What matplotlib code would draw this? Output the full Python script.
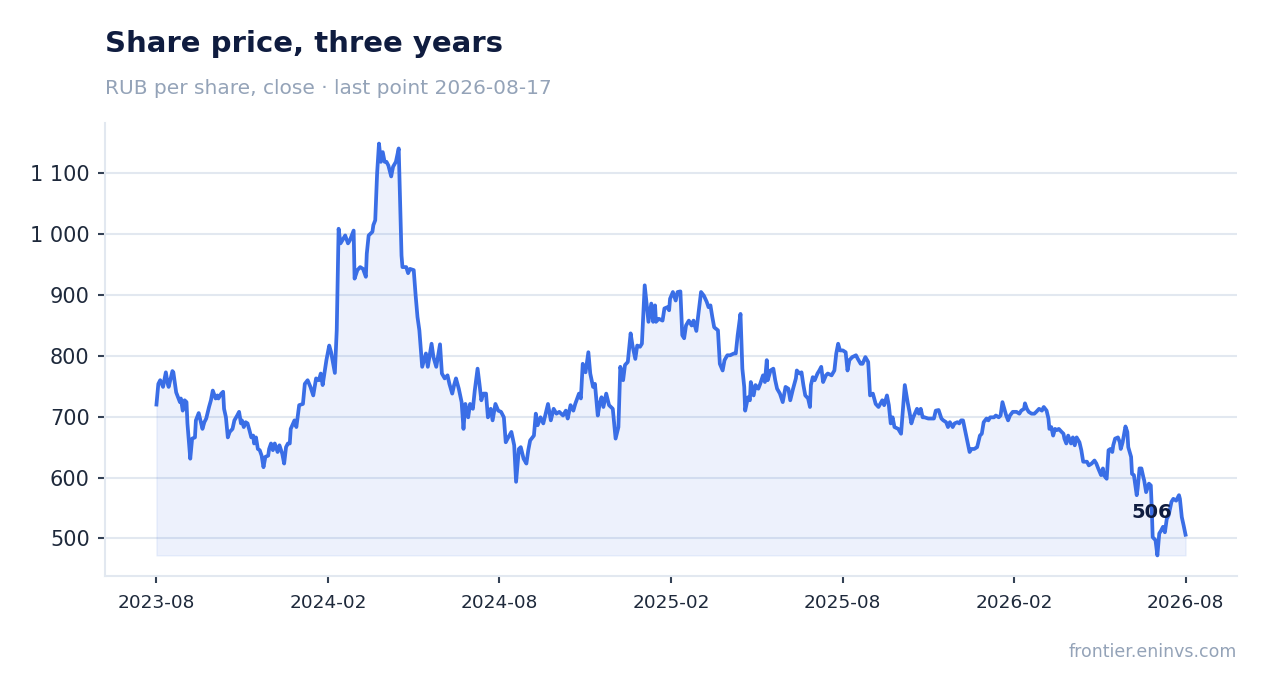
import numpy as np
import pandas as pd
import matplotlib
matplotlib.use("Agg")
import matplotlib.pyplot as plt
from matplotlib.ticker import FuncFormatter

# daily closes: days since 2023-08-17 and price (RUB)
start_date = "2023-08-17"
day_offset = [
    0, 2, 4, 7, 10, 12, 13, 17, 18, 21, 23, 25, 26, 28, 30, 32, 33, 36, 38, 41,
    42, 45, 48, 49, 51, 53, 55, 56, 58, 60, 63, 65, 66, 69, 71, 72, 74, 76, 78, 81,
    83, 86, 88, 90, 91, 93, 95, 97, 99, 101, 103, 104, 106, 108, 110, 112, 114, 116, 119, 120,
    122, 124, 126, 128, 129, 131, 134, 136, 138, 140, 142, 143, 147, 149, 152, 156, 158, 161, 164, 167,
    170, 173, 175, 177, 181, 184, 186, 190, 192, 194, 196, 198, 201, 204, 206, 210, 211, 214, 217, 220,
    223, 224, 226, 230, 231, 233, 235, 237, 239, 241, 243, 245, 247, 250, 252, 255, 258, 261, 262, 266,
    268, 270, 274, 276, 278, 280, 283, 287, 289, 293, 295, 298, 302, 304, 307, 310, 312, 315, 317, 319,
    322, 325, 327, 329, 332, 334, 337, 339, 342, 344, 346, 348, 351, 353, 356, 358, 361, 364, 367, 370,
    372, 374, 378, 381, 383, 386, 388, 391, 394, 396, 398, 402, 404, 406, 409, 412, 414, 417, 420, 423,
    426, 429, 433, 436, 438, 441, 444, 446, 450, 452, 454, 457, 460, 462, 465, 467, 470, 472, 474, 476,
    479, 482, 486, 489, 492, 494, 497, 499, 502, 505, 507, 510, 512, 515, 517, 520, 522, 524, 527, 529,
    531, 532, 535, 539, 541, 544, 546, 547, 550, 553, 555, 558, 560, 562, 564, 567, 570, 572, 575, 578,
    580, 583, 586, 588, 590, 592, 594, 598, 600, 603, 605, 608, 611, 615, 617, 619, 622, 624, 626, 627,
    630, 632, 633, 636, 638, 641, 643, 646, 648, 650, 651, 654, 657, 659, 661, 664, 667, 670, 673, 675,
    678, 681, 682, 685, 687, 689, 691, 694, 696, 697, 699, 701, 704, 706, 708, 710, 713, 715, 719, 722,
    724, 726, 728, 731, 734, 736, 738, 741, 745, 747, 750, 752, 755, 758, 760, 763, 766, 769, 773, 775,
    778, 780, 782, 784, 786, 790, 793, 795, 797, 800, 802, 804, 806, 810, 812, 814, 816, 818, 822, 826,
    828, 830, 833, 836, 838, 841, 843, 845, 848, 850, 853, 855, 857, 859, 862, 863, 866, 868, 871, 874,
    875, 877, 879, 881, 884, 886, 888, 892, 894, 897, 899, 901, 903, 905, 907, 909, 912, 916, 919, 921,
    924, 925, 927, 929, 932, 935, 937, 940, 943, 945, 948, 950, 951, 953, 955, 957, 959, 961, 964, 966,
    967, 969, 971, 974, 976, 978, 980, 983, 985, 987, 991, 993, 996, 999, 1001, 1003, 1006, 1008, 1009, 1012,
    1014, 1016, 1018, 1019, 1021, 1024, 1026, 1027, 1029, 1032, 1034, 1035, 1038, 1039, 1041, 1044, 1045, 1047, 1049, 1051,
    1052, 1054, 1057, 1059, 1060, 1061, 1064, 1066, 1068, 1070, 1072, 1074, 1076, 1078, 1081, 1083, 1086, 1089, 1090, 1092,
    1094, 1096,
]
price = [
    720, 754, 760, 749, 773, 754, 749, 775, 773, 740, 732, 724, 730, 710, 727, 724, 689, 631, 664, 666,
    694, 706, 686, 680, 691, 697, 710, 716, 727, 743, 730, 735, 730, 738, 741, 713, 699, 666, 675, 680,
    694, 702, 708, 689, 694, 683, 691, 689, 678, 666, 669, 656, 666, 647, 645, 636, 617, 634, 636, 647,
    656, 645, 656, 647, 642, 653, 639, 623, 650, 656, 656, 680, 694, 683, 719, 721, 754, 760, 749, 735,
    763, 760, 771, 752, 793, 817, 806, 772, 842, 1009, 985, 990, 998, 985, 990, 1006, 927, 941, 946, 943,
    930, 968, 998, 1004, 1015, 1023, 1100, 1149, 1119, 1135, 1119, 1119, 1113, 1095, 1111, 1119, 1141, 965, 946, 946,
    936, 943, 941, 900, 864, 842, 782, 804, 782, 820, 798, 782, 819, 771, 763, 768, 754, 738, 752, 763,
    746, 724, 680, 721, 699, 721, 713, 743, 779, 754, 727, 738, 738, 699, 713, 694, 721, 710, 708, 699,
    658, 664, 675, 653, 593, 647, 650, 631, 623, 645, 661, 669, 705, 686, 699, 689, 702, 721, 694, 713,
    705, 708, 702, 710, 697, 719, 710, 721, 738, 730, 787, 773, 806, 771, 749, 754, 702, 721, 732, 716,
    738, 719, 713, 664, 683, 782, 760, 785, 790, 837, 817, 795, 817, 815, 820, 916, 886, 856, 886, 856,
    883, 856, 861, 858, 878, 880, 875, 894, 905, 891, 905, 906, 834, 829, 850, 858, 850, 858, 841, 880,
    905, 899, 889, 880, 883, 864, 847, 842, 787, 776, 793, 801, 801, 804, 804, 834, 869, 779, 749, 710,
    732, 727, 757, 735, 752, 746, 754, 768, 757, 793, 760, 776, 779, 760, 746, 738, 724, 749, 746, 727,
    746, 763, 776, 771, 773, 752, 735, 730, 716, 752, 765, 760, 771, 776, 782, 757, 768, 771, 768, 776,
    804, 820, 809, 809, 806, 776, 793, 798, 801, 795, 787, 787, 798, 790, 735, 738, 721, 716, 727, 719,
    735, 719, 689, 699, 683, 680, 672, 713, 752, 724, 708, 689, 699, 713, 705, 713, 699, 699, 697, 697,
    697, 710, 711, 697, 694, 691, 683, 691, 683, 689, 691, 689, 694, 694, 672, 664, 642, 647, 647, 650,
    656, 669, 672, 691, 697, 694, 699, 699, 702, 699, 702, 724, 713, 702, 694, 702, 708, 708, 705, 710,
    713, 722, 713, 708, 705, 705, 708, 713, 710, 716, 710, 697, 680, 683, 669, 680, 678, 680, 675, 672,
    664, 656, 669, 656, 666, 653, 666, 658, 645, 626, 626, 620, 623, 628, 623, 615, 604, 615, 604, 598,
    645, 647, 642, 653, 664, 666, 658, 647, 658, 684, 675, 650, 634, 606, 604, 571, 582, 615, 615, 601,
    595, 576, 590, 587, 551, 502, 497, 472, 508, 513, 519, 510, 532, 538, 560, 565, 562, 571, 565, 535,
    521, 506,
]
tick_labels = ["2023-08", "2024-02", "2024-08", "2025-02", "2025-08", "2026-02", "2026-08"]

title = "Share price, three years"
subtitle = "RUB per share, close · last point 2026-08-17"
source = "frontier.eninvs.com"

line_color = "#3a6ee6"
navy = "#0f1c3f"
grey = "#94a3b8"
grid_color = "#e2e8f0"

t0 = pd.Timestamp(start_date)
dates = t0 + pd.to_timedelta(day_offset, unit="D")
values = np.array(price, dtype=float)

fig = plt.figure(figsize=(12.67, 6.93), dpi=100)
ax = fig.add_axes([105 / 1267, 1 - 576 / 693, (1237 - 105) / 1267, (576 - 123) / 693])

ax.fill_between(dates, values, values.min(), color=line_color, alpha=0.09, linewidth=1)
ax.plot(dates, values, color=line_color, lw=2.7, solid_joinstyle="round")

# last value label
ax.annotate(f"{price[-1]:.0f}", (dates[-1], values[-1]), xytext=(-9.5, 16),
            textcoords="offset points", ha="right", va="center",
            fontsize=14, fontweight="bold", color=navy)

# six evenly spaced ticks across the three years
ticks = pd.date_range(dates[0], dates[-1], periods=len(tick_labels))
ax.set_xticks(ticks)
ax.set_xticklabels(tick_labels)
ax.set_yticks([500, 600, 700, 800, 900, 1000, 1100])
ax.yaxis.set_major_formatter(FuncFormatter(lambda v, p: f"{v:,.0f}".replace(",", " ")))

ax.grid(axis="y", color=grid_color, lw=1.5)
ax.set_axisbelow(True)
for s in ["top", "right"]:
    ax.spines[s].set_visible(False)
for s in ["left", "bottom"]:
    ax.spines[s].set_color(grid_color)
    ax.spines[s].set_linewidth(1.5)
ax.tick_params(axis="y", labelsize=15, colors="#334155", labelcolor="#1e293b", length=5, width=1.5, pad=6)
ax.tick_params(axis="x", labelsize=13.3, colors="#334155", labelcolor="#1e293b", length=5, width=1.5, pad=8)

fig.text(105 / 1267, 1 - 44 / 693, title, fontsize=21, fontweight="bold", color=navy, va="center")
fig.text(105 / 1267, 1 - 88 / 693, subtitle, fontsize=14.5, color=grey, va="center")
fig.text(1237 / 1267, 1 - 652 / 693, source, fontsize=12.5, color=grey, ha="right", va="center")

fig.savefig("out.png", dpi=100)
